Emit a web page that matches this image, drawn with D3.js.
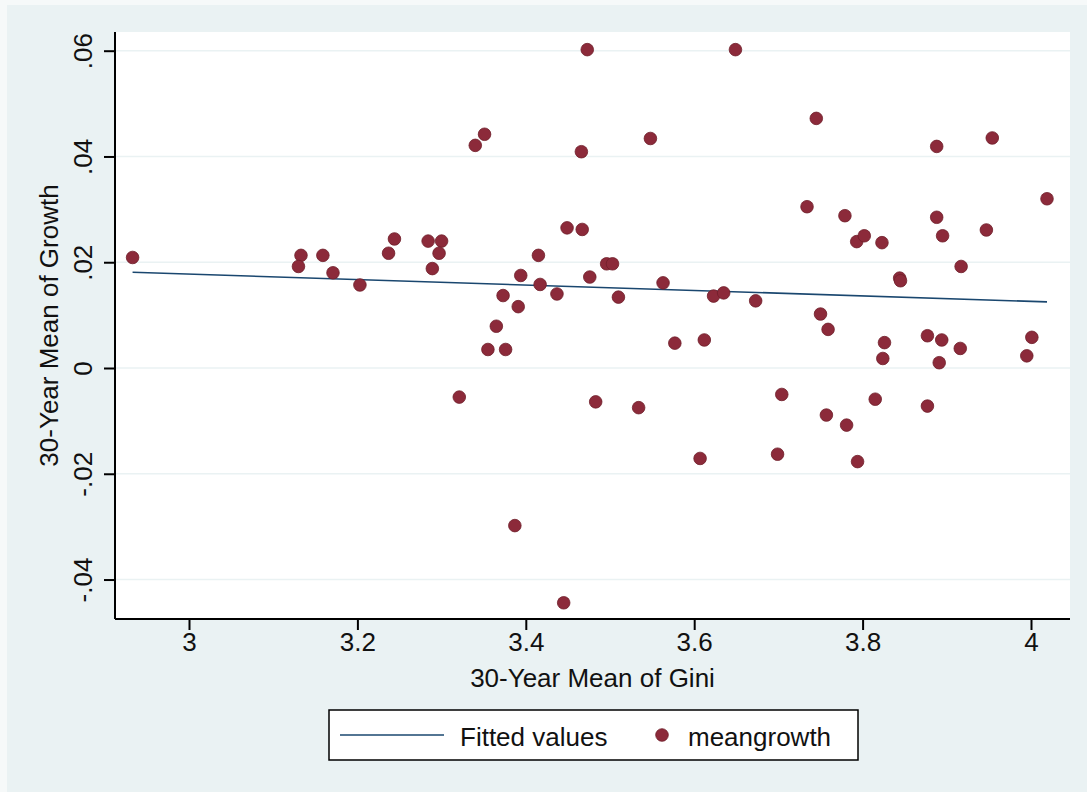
<!DOCTYPE html>
<html>
<head>
<meta charset="utf-8">
<script src="https://cdn.jsdelivr.net/npm/d3@7"></script>
<style>
  html, body { margin: 0; padding: 0; background: #ffffff; }
  svg { display: block; font-family: "Liberation Sans", Arial, Helvetica, sans-serif; }
</style>
</head>
<body>
<svg id="chart" width="1087" height="792"></svg>
<script>
// 30-year mean of Gini (x) and 30-year mean of growth (y)
const gini = [
  2.933, 3.133, 3.130, 3.159, 3.171, 3.203, 3.244, 3.237, 3.284, 3.300,
  3.297, 3.289, 3.340, 3.351, 3.473, 3.466, 3.449, 3.467, 3.415, 3.394,
  3.417, 3.437, 3.476, 3.373, 3.391, 3.365, 3.355, 3.376, 3.321, 3.483,
  3.387, 3.445, 3.649, 3.548, 3.745, 3.888, 3.954, 3.734, 3.779, 3.888,
  4.019, 3.793, 3.802, 3.823, 3.895, 3.947, 3.496, 3.503, 3.510, 3.563,
  3.623, 3.635, 3.673, 3.917, 3.844, 3.845, 3.750, 3.759, 3.577, 3.612,
  3.826, 3.824, 3.877, 3.894, 3.916, 3.891, 4.001, 3.995, 3.534, 3.704,
  3.815, 3.877, 3.757, 3.781, 3.607, 3.699, 3.794
];
const meangrowth = [
  0.0209, 0.0213, 0.0192, 0.0213, 0.0180, 0.0157, 0.0244, 0.0217, 0.0240, 0.0240,
  0.0217, 0.0188, 0.0421, 0.0442, 0.0602, 0.0409, 0.0265, 0.0262, 0.0213, 0.0175,
  0.0158, 0.0140, 0.0172, 0.0137, 0.0116, 0.0079, 0.0035, 0.0035, -0.0055, -0.0064,
  -0.0298, -0.0444, 0.0602, 0.0434, 0.0472, 0.0419, 0.0435, 0.0305, 0.0288, 0.0285,
  0.0320, 0.0239, 0.0250, 0.0237, 0.0250, 0.0261, 0.0197, 0.0197, 0.0134, 0.0161,
  0.0136, 0.0142, 0.0127, 0.0192, 0.0170, 0.0165, 0.0102, 0.0073, 0.0047, 0.0053,
  0.0048, 0.0018, 0.0061, 0.0053, 0.0037, 0.0010, 0.0058, 0.0023, -0.0075, -0.0050,
  -0.0059, -0.0072, -0.0089, -0.0108, -0.0171, -0.0163, -0.0177
];
// Fitted values (linear fit) endpoints
const fitX = [2.933, 4.019];
const fitY = [0.0181, 0.0125];

const xTicks = [3, 3.2, 3.4, 3.6, 3.8, 4];
const xTickLabels = ["3", "3.2", "3.4", "3.6", "3.8", "4"];
const yTicks = [-0.04, -0.02, 0, 0.02, 0.04, 0.06];
const yTickLabels = ["-.04", "-.02", "0", ".02", ".04", ".06"];

const xTitle = "30-Year Mean of Gini";
const yTitle = "30-Year Mean of Growth";
const legendLabels = ["Fitted values", "meangrowth"];

const W = 1087, H = 792;
const plot = { left: 115, right: 1070, top: 32, bottom: 619 };
const fs = 26;
const markerColor = "#8c2a3a";
const lineColor = "#1a476f";
const bgColor = "#eaf2f3";

const svg = d3.select("#chart");

// graph region
svg.append("rect").attr("x", 0).attr("y", 0).attr("width", W).attr("height", H).attr("fill", "#f6f9f9");
svg.append("rect").attr("x", 7).attr("y", 5).attr("width", W - 7).attr("height", H - 5).attr("fill", bgColor);
// plot region
svg.append("rect").attr("x", plot.left).attr("y", plot.top)
  .attr("width", plot.right - plot.left).attr("height", plot.bottom - plot.top).attr("fill", "#ffffff");

const x = d3.scaleLinear().domain([3, 4]).range([189, 1031]);
const y = d3.scaleLinear().domain([0, 0.06]).range([368, 50.7]);

// gridlines
svg.append("g").selectAll("line").data(yTicks).join("line")
  .attr("x1", plot.left).attr("x2", plot.right)
  .attr("y1", d => y(d)).attr("y2", d => y(d))
  .attr("stroke", bgColor).attr("stroke-width", 1.5);

// fitted line
svg.append("path")
  .datum(fitX.map((d, i) => [d, fitY[i]]))
  .attr("d", d3.line().x(d => x(d[0])).y(d => y(d[1])))
  .attr("fill", "none").attr("stroke", lineColor).attr("stroke-width", 1.6);

// scatter points
svg.append("g").selectAll("circle").data(gini.map((d, i) => [d, meangrowth[i]])).join("circle")
  .attr("cx", d => x(d[0])).attr("cy", d => y(d[1])).attr("r", 6.3)
  .attr("fill", markerColor).attr("stroke", "#6e1e2a").attr("stroke-width", 0.8);

// axes
const xAxis = d3.axisBottom(x).tickValues(xTicks).tickFormat((d, i) => xTickLabels[i]).tickSize(11).tickPadding(6).tickSizeOuter(0);
const gx = svg.append("g").attr("transform", `translate(0,${plot.bottom})`).call(xAxis);
gx.select(".domain").attr("d", `M${plot.left},0H${plot.right}`).attr("stroke", "#000").attr("stroke-width", 2);
gx.selectAll(".tick line").attr("stroke", "#000").attr("stroke-width", 2);
gx.selectAll(".tick text").attr("font-size", fs).attr("fill", "#111").attr("font-family", "Liberation Sans, Arial, sans-serif").attr("dy", "0.71em").attr("y", 14);

const yAxis = d3.axisLeft(y).tickValues(yTicks).tickFormat((d, i) => yTickLabels[i]).tickSize(11).tickSizeOuter(0);
const gy = svg.append("g").attr("transform", `translate(${plot.left},0)`).call(yAxis);
gy.select(".domain").attr("d", `M0,${plot.top}V${plot.bottom}`).attr("stroke", "#000").attr("stroke-width", 2);
gy.selectAll(".tick line").attr("stroke", "#000").attr("stroke-width", 2);
gy.selectAll(".tick text")
  .attr("font-size", fs).attr("fill", "#111").attr("font-family", "Liberation Sans, Arial, sans-serif")
  .attr("x", null).attr("dy", null)
  .attr("text-anchor", "middle")
  .attr("transform", "translate(-23,0) rotate(-90)");

// axis titles
svg.append("text").attr("x", (plot.left + plot.right) / 2).attr("y", 687)
  .attr("text-anchor", "middle").attr("font-size", fs).attr("fill", "#111").text(xTitle);
svg.append("text").attr("transform", `translate(58,${(plot.top + plot.bottom) / 2}) rotate(-90)`)
  .attr("text-anchor", "middle").attr("font-size", fs).attr("fill", "#111").text(yTitle);

// legend
const lg = svg.append("g");
lg.append("rect").attr("x", 329).attr("y", 710).attr("width", 529).attr("height", 50)
  .attr("fill", "#ffffff").attr("stroke", "#000").attr("stroke-width", 1.5);
lg.append("line").attr("x1", 340).attr("x2", 444).attr("y1", 735).attr("y2", 735)
  .attr("stroke", lineColor).attr("stroke-width", 1.6);
lg.append("text").attr("x", 460).attr("y", 746).attr("font-size", fs).attr("fill", "#111").text(legendLabels[0]);
lg.append("circle").attr("cx", 662).attr("cy", 735).attr("r", 6.3)
  .attr("fill", markerColor).attr("stroke", "#6e1e2a").attr("stroke-width", 0.8);
lg.append("text").attr("x", 688).attr("y", 746).attr("font-size", fs).attr("fill", "#111").text(legendLabels[1]);
</script>
</body>
</html>
